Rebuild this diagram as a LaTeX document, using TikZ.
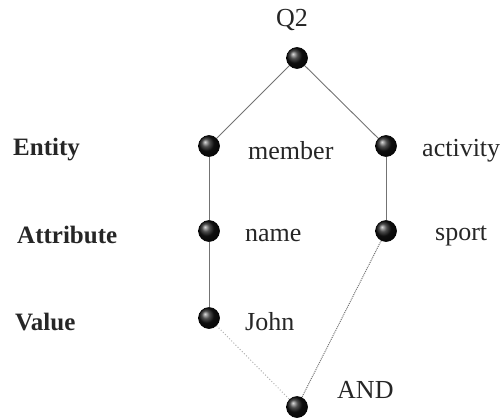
\documentclass[tikz,border=0pt]{standalone}
\usepackage{fontspec}
\setmainfont{Liberation Serif}
\begin{document}
\begin{tikzpicture}[x=1pt,y=-1pt,
  ball/.style={circle,inner sep=0pt,minimum size=21pt,shading=ball,ball color=black!92,draw=black,line width=0.6pt},
  lbl/.style={anchor=west,inner sep=0pt,font=\fontsize{26}{30}\selectfont,text=black!85},
  lvl/.style={anchor=west,inner sep=0pt,font=\fontsize{25}{30}\selectfont\bfseries,text=black!85},
  solidedge/.style={draw=black!55,line width=0.9pt},
  lightdot/.style={draw=black!30,line width=1pt,dotted},
  darkdot/.style={draw=black!55,line width=1pt,densely dotted}]
\useasboundingbox (0,0) rectangle (502,417);
\node[ball] (q2) at (297,58) {};
\node[ball] (mem) at (209,146) {};
\node[ball] (act) at (386,146) {};
\node[ball] (nam) at (209,231) {};
\node[ball] (spo) at (386,231) {};
\node[ball] (joh) at (209,318) {};
\node[ball] (and) at (297,407) {};
\node[lbl,anchor=center] (tq2) at (292,20) {Q2};
\node[lbl] (tmem) at (248,151) {member};
\node[lbl] (tact) at (422,151) {activity};
\node[lbl] (tnam) at (245,235) {name};
\node[lbl] (tspo) at (435,236) {sport};
\node[lbl] (tjoh) at (245,322) {John};
\node[lbl] (tand) at (337,390) {AND};
\node[lvl] (lent) at (13,150) {Entity};
\node[lvl] (latt) at (17,235) {Attribute};
\node[lvl] (lval) at (15,322) {Value};
\draw[solidedge] (q2) -- (mem);
\draw[solidedge] (q2) -- (act);
\draw[solidedge] (mem) -- (nam);
\draw[solidedge] (nam) -- (joh);
\draw[solidedge] (act) -- (spo);
\draw[lightdot] (joh) -- (and);
\draw[darkdot] (spo) -- (and);
\end{tikzpicture}
\end{document}
